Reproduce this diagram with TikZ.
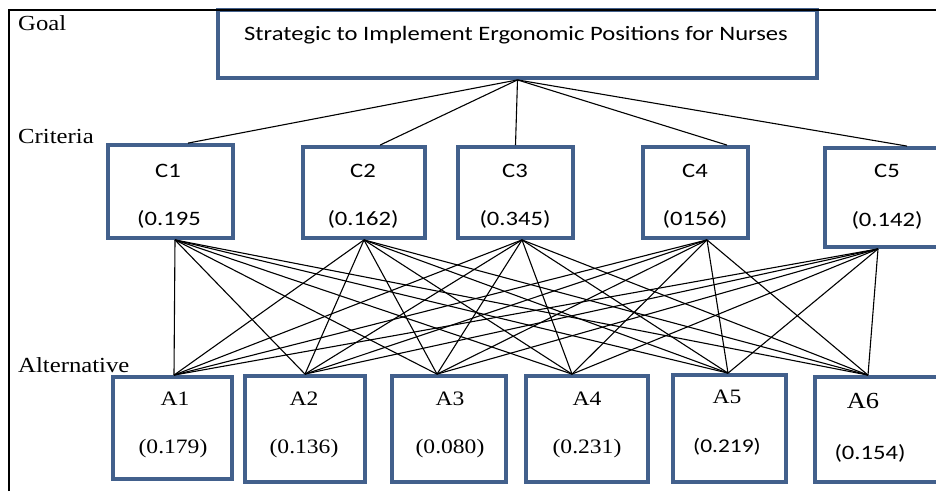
\documentclass[tikz,border=0pt]{standalone}
\usepackage{fontspec}
\setmainfont{Liberation Serif}[FakeStretch=1.15]
\newfontfamily\calibri{Carlito}[FakeStretch=1.2]
\usetikzlibrary{calc}
\definecolor{boxblue}{RGB}{66,96,140}
\begin{document}
\begin{tikzpicture}[x=1pt,y=-1pt,
    box/.style={draw=boxblue,line width=3.8pt,fill=white,inner sep=0pt},
    link/.style={line width=1.1pt}]
    \tikzstyle{level}=[anchor=base west,inner sep=0pt,font=\fontsize{21.5}{25}\selectfont]
    \tikzstyle{ctext}=[anchor=base,inner sep=0pt,font=\calibri\fontsize{20.5}{24}\selectfont]
    \tikzstyle{atext}=[anchor=base,inner sep=0pt,font=\fontsize{20.5}{24}\selectfont]

    \useasboundingbox (0,0) rectangle (936,491);
    \clip (0,0) rectangle (936,491);
    \fill[white] (0,0) rectangle (936,491);

    % levels
    \node[level] (goallevel) at (18,30) {Goal};
    \node[level] (critlevel) at (18,143) {Criteria};
    \node[level] (altlevel) at (18,372) {Alternative};

    % goal
    \node[box, minimum width=599pt, minimum height=68pt] (goal) at (517.5,44) {};
    \node[ctext, font=\calibri\fontsize{20.5}{24}\selectfont] (goaltext) at (516,40)
        {Strategic to Implement Ergonomic Positions for Nurses};

    % criteria
    \node[box, minimum width=125pt, minimum height=93pt] (C1) at (170.5,191.5) {};
    \node[box, minimum width=122pt, minimum height=91pt] (C2) at (364,192.5) {};
    \node[box, minimum width=115pt, minimum height=91pt] (C3) at (515.5,192.5) {};
    \node[box, minimum width=105pt, minimum height=91pt] (C4) at (695.5,192.5) {};
    \node[box, minimum width=124pt, minimum height=99pt] (C5) at (887,197.5) {};
    \node[ctext] (C1name) at (168,177) {C1};
    \node[ctext] (C2name) at (363,177) {C2};
    \node[ctext] (C3name) at (515,177) {C3};
    \node[ctext] (C4name) at (695,177) {C4};
    \node[ctext] (C5name) at (887,177) {C5};
    \node[ctext] (C1val) at (169,225) {(0.195};
    \node[ctext] (C2val) at (363,225) {(0.162)};
    \node[ctext] (C3val) at (515,225) {(0.345)};
    \node[ctext] (C4val) at (695,225) {(0156)};
    \node[ctext] (C5val) at (887,226) {(0.142)};

    % alternatives
    \node[box, minimum width=119pt, minimum height=102pt] (A1) at (172.5,428) {};
    \node[box, minimum width=120pt, minimum height=106pt] (A2) at (305,429) {};
    \node[box, minimum width=114pt, minimum height=106pt] (A3) at (449,429) {};
    \node[box, minimum width=122pt, minimum height=106pt] (A4) at (587,429) {};
    \node[box, minimum width=113pt, minimum height=107pt] (A5) at (729.5,428.5) {};
    \node[box, minimum width=125pt, minimum height=105pt] (A6) at (877.5,429.5) {};
    \node[atext] (A1name) at (175,405) {A1};
    \node[atext] (A2name) at (304,405) {A2};
    \node[atext] (A3name) at (450,405) {A3};
    \node[atext] (A4name) at (587,405) {A4};
    \node[atext] (A5name) at (727,403) {A5};
    \node[atext, font=\fontsize{23}{26}\selectfont] (A6name) at (863,408) {A6};
    \node[atext] (A1val) at (173,453) {(0.179)};
    \node[atext] (A2val) at (304,453) {(0.136)};
    \node[atext] (A3val) at (450,453) {(0.080)};
    \node[atext] (A4val) at (587,453) {(0.231)};
    \node[ctext, font=\calibri\fontsize{19.5}{23}\selectfont] (A5val) at (727,452) {(0.219)};
    \node[ctext] (A6val) at (870,459) {(0.154)};

    % where the links meet the boxes
    \coordinate (C1t) at ($(C1.north)+(17.5,0)$);
    \coordinate (C2t) at ($(C2.north)+(16,0)$);
    \coordinate (C3t) at (C3.north);
    \coordinate (C4t) at ($(C4.north)+(31.5,0)$);
    \coordinate (C5t) at ($(C5.north)+(20,0)$);
    \coordinate (C1b) at ($(C1.south)+(4.5,0)$);
    \coordinate (C2b) at (C2.south);
    \coordinate (C3b) at ($(C3.south)+(6.5,0)$);
    \coordinate (C4b) at ($(C4.south)+(11.5,0)$);
    \coordinate (C5b) at ($(C5.south)+(-9,0)$);
    \coordinate (A1t) at ($(A1.north)+(1.5,0)$);
    \coordinate (A2t) at (A2.north);
    \coordinate (A3t) at ($(A3.north)+(-12,0)$);
    \coordinate (A4t) at ($(A4.north)+(-15,0)$);
    \coordinate (A5t) at ($(A5.north)+(-1.5,0)$);
    \coordinate (A6t) at ($(A6.north)+(-9.5,0)$);

    % links
    \foreach \c in {1,...,5}
        \draw[link] (goal.south) -- (C\c t);
    \foreach \c in {1,...,5}
        \foreach \a in {1,...,6}
            \draw[link] (C\c b) -- (A\a t);

    % frame
    \draw[line width=1.5pt] (9,491) -- (9,10) -- (936,10);

\end{tikzpicture}
\end{document}
